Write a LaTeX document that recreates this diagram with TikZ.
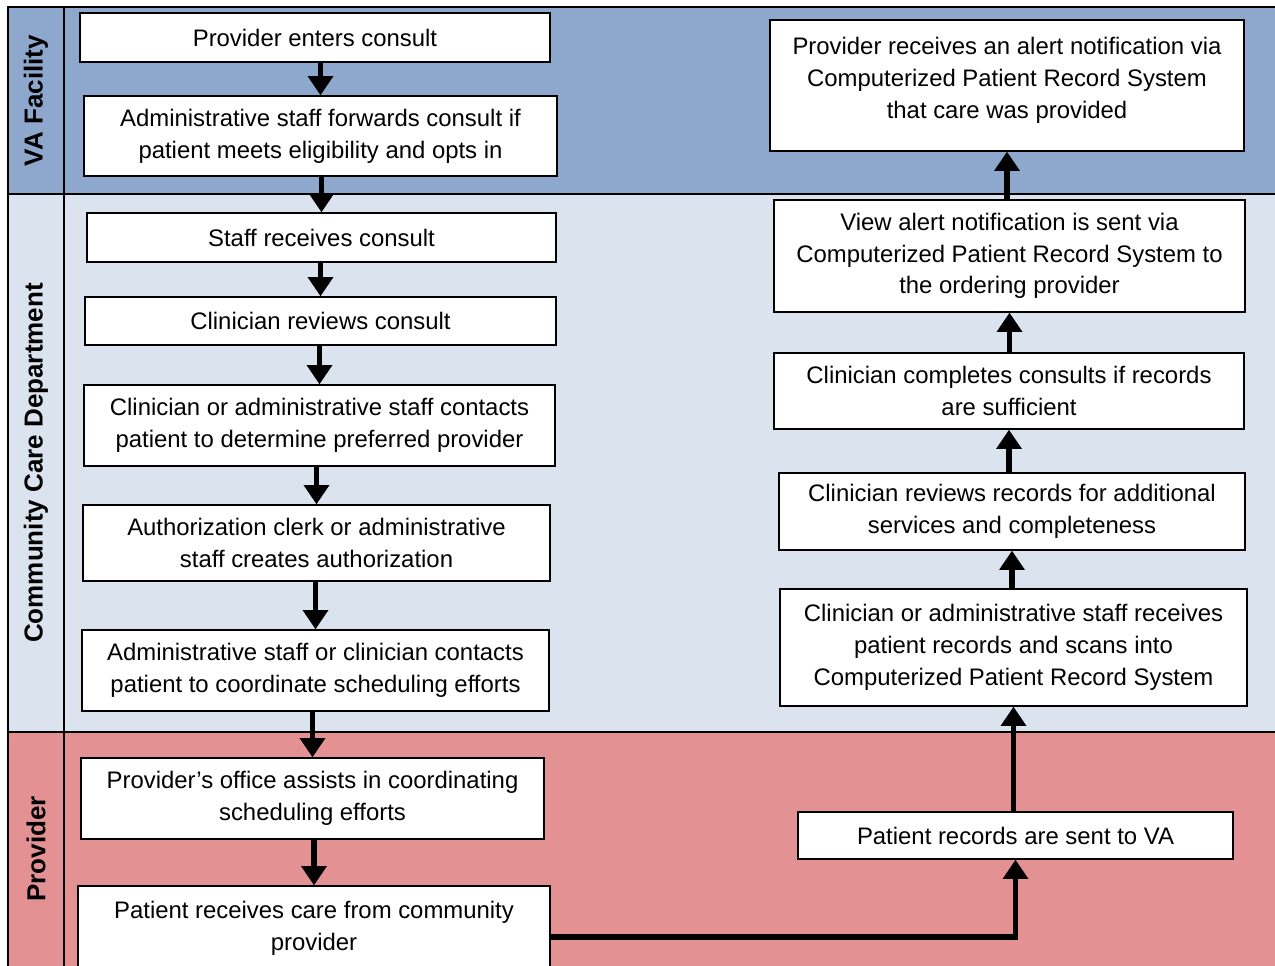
\documentclass[tikz,border=0pt]{standalone}
\usepackage{fontspec}
\setmainfont{Liberation Sans}
\usetikzlibrary{arrows.meta,positioning}
\definecolor{vablue}{HTML}{8DA8CC}
\definecolor{ccgray}{HTML}{DBE3EF}
\definecolor{provred}{HTML}{E39193}

\begin{document}
\begin{tikzpicture}[x=0.02cm, y=-0.02cm,
  stepbox/.style={draw, fill=white, line width=0.75pt, align=center,
    inner sep=0pt, font=\fontsize{13.6}{18.1}\selectfont},
  flow/.style={line width=3.4pt, -{Triangle[width=14pt,length=11pt]}},
  lane/.style={draw, line width=1.4pt},
  lanename/.style={rotate=90, font=\bfseries\fontsize{14.8}{18}\selectfont}]
\useasboundingbox (0,0) rectangle (1275,966);
% swimlanes
\draw[lane, fill=vablue] (8,7) rectangle (1290,194);
\draw[lane, fill=ccgray] (8,194) rectangle (1290,732);
\draw[lane, fill=provred] (8,732) rectangle (1290,995);
\draw[lane] (64,7) -- (64,995);
\node[lanename] (vaname) at (36,100.5) {VA Facility};
\node[lanename] (ccname) at (36,463) {Community Care Department};
\node[lanename] (prname) at (36,849) {Provider};
% left column
\node[stepbox, minimum width=9.4cm, minimum height=0.98cm] (s1) at (315,37.5) {Provider enters consult};
\node[stepbox, minimum width=9.46cm, minimum height=1.6cm] (s2) at (320.5,136) {Administrative staff forwards consult if\\patient meets eligibility and opts in};
\node[stepbox, minimum width=9.38cm, minimum height=0.98cm] (s3) at (321.5,237.5) {Staff receives consult};
\node[stepbox, minimum width=9.42cm, minimum height=0.96cm] (s4) at (320.5,321) {Clinician reviews consult};
\node[stepbox, minimum width=9.42cm, minimum height=1.62cm] (s5) at (319.5,425.5) {Clinician or administrative staff contacts\\patient to determine preferred provider};
\node[stepbox, minimum width=9.34cm, minimum height=1.52cm] (s6) at (316.5,543) {Authorization clerk or administrative\\staff creates authorization};
\node[stepbox, minimum width=9.34cm, minimum height=1.62cm] (s7) at (315.5,670.5) {Administrative staff or clinician contacts\\patient to coordinate scheduling efforts};
\node[stepbox, minimum width=9.26cm, minimum height=1.62cm] (s8) at (312.5,798.5) {Provider’s office assists in coordinating\\scheduling efforts};
\node[stepbox, minimum width=9.44cm, minimum height=1.68cm] (s9) at (314,928) {Patient receives care from community\\provider};
% right column
\node[stepbox, minimum width=9.48cm, minimum height=2.62cm] (r1) at (1007,85.5) {Provider receives an alert notification via\\Computerized Patient Record System\\that care was provided\\[-0.32cm]};
\node[stepbox, minimum width=9.42cm, minimum height=2.24cm] (r2) at (1009.5,256) {View alert notification is sent via\\Computerized Patient Record System to\\the ordering provider};
\node[stepbox, minimum width=9.4cm, minimum height=1.52cm] (r3) at (1009,391) {Clinician completes consults if records\\are sufficient};
\node[stepbox, minimum width=9.32cm, minimum height=1.54cm] (r4) at (1012,511.5) {Clinician reviews records for additional\\services and completeness};
\node[stepbox, minimum width=9.34cm, minimum height=2.34cm] (r5) at (1013.5,647.5) {Clinician or administrative staff receives\\patient records and scans into\\Computerized Patient Record System};
\node[stepbox, minimum width=8.7cm, minimum height=0.94cm] (r6) at (1015.5,835.5) {Patient records are sent to VA};
% arrows
\foreach \a/\b in {s1/s2, s2/s3, s3/s4, s4/s5, s5/s6, s6/s7, s7/s8, s8/s9}
  \draw[flow] (\b.north |- \a.south) -- (\b.north);
\foreach \a/\b in {r2/r1, r3/r2, r4/r3, r5/r4, r6/r5}
  \draw[flow] (\b.south |- \a.north) -- (\b.south);
\draw[flow] ([yshift=-0.18cm]s9.east) -| (r6.south);
\end{tikzpicture}
\end{document}
